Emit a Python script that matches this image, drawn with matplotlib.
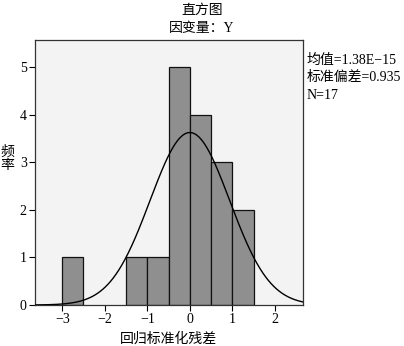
import numpy as np
import matplotlib
matplotlib.use("Agg")
import matplotlib.pyplot as plt

plt.rcParams['font.family'] = ['Liberation Serif', 'Noto Sans CJK SC']
plt.rcParams['font.weight'] = 'light'
plt.rcParams['axes.unicode_minus'] = False

# histogram of standardized residuals, bin width 0.5
bin_left = [-3.0, -2.5, -2.0, -1.5, -1.0, -0.5, 0.0, 0.5, 1.0]
counts = [1, 0, 0, 1, 1, 5, 4, 3, 2]
bin_width = 0.5
mean = 1.38e-15
std = 0.935
n = 17

fig = plt.figure(figsize=(4.04, 3.46), dpi=100)
ax = fig.add_axes([0.0866, 0.1185, 0.6624, 0.7655])
ax.set_facecolor('#f3f3f3')

for x0, c in zip(bin_left, counts):
    if c > 0:
        ax.bar(x0, c, width=bin_width, align='edge', color='#8f8f8f',
               edgecolor='#111111', linewidth=0.9, zorder=2)

xs = np.linspace(-3.64, 2.65, 400)
ys = n * bin_width / (std * np.sqrt(2 * np.pi)) * np.exp(-0.5 * ((xs - mean) / std) ** 2)
ax.plot(xs, ys, color='black', linewidth=1.0, zorder=3)

ax.set_xlim(-3.64, 2.65)
ax.set_ylim(0, 5.57)
ax.set_xticks([-3, -2, -1, 0, 1, 2])
ax.set_xticklabels(['\u22123', '\u22122', '\u22121', '0', '1', '2'])
ax.set_yticks([0, 1, 2, 3, 4, 5])
ax.tick_params(direction='out', length=4, width=0.8, labelsize=10, pad=2)
for s in ax.spines.values():
    s.set_linewidth(0.9)
    s.set_color('#333333')

ax.set_xlabel('回归标准化残差', fontsize=10, labelpad=4)
fig.text(0.018, 0.54, '频\n率', fontsize=10, ha='center', va='center', linespacing=1.0)

fig.text(0.5, 0.99, '直方图', fontsize=10, ha='center', va='top')
fig.text(0.5, 0.935, '因变量：Y', fontsize=10, ha='center', va='top')

fig.text(0.758, 0.845, '均值=1.38E\u221215\n标准偏差=0.935\nN=17', fontsize=10,
         ha='left', va='top', linespacing=1.45)

fig.savefig('out.png', dpi=100, facecolor='white')
